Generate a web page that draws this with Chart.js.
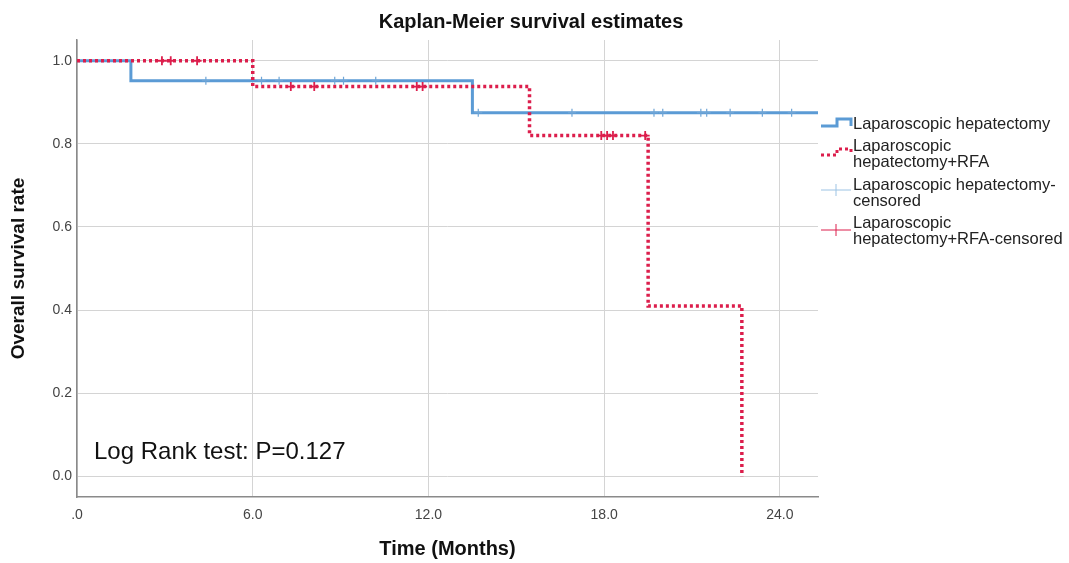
<!DOCTYPE html>
<html>
<head>
<meta charset="utf-8">
<script src="https://cdn.jsdelivr.net/npm/chart.js@4"></script>
<style>
  html, body { margin: 0; padding: 0; background: #fff; }
  #wrap { width: 1069px; height: 563px; }
</style>
</head>
<body>
<div id="wrap"><canvas id="km"></canvas></div>
<script>
// survival steps (months, rate)
const lapTimes     = [0, 1.84, 13.5, 25.3];
const lapSurv      = [1.0, 0.952, 0.875, 0.875];
const rfaTimes     = [0, 6.0, 15.45, 19.5, 22.7];
const rfaSurv      = [1.0, 0.938, 0.82, 0.41, 0.0];
// censored marks
const lapCensTimes = [4.4, 6.3, 6.9, 8.8, 9.1, 10.2, 13.7, 16.9, 19.7, 20.0, 21.3, 21.5, 22.3, 23.4, 24.4];
const lapCensSurv  = [0.952, 0.952, 0.952, 0.952, 0.952, 0.952, 0.875, 0.875, 0.875, 0.875, 0.875, 0.875, 0.875, 0.875, 0.875];
const rfaCensTimes = [2.9, 3.2, 4.1, 7.3, 8.1, 11.6, 11.8, 17.9, 18.1, 18.3, 19.4];
const rfaCensSurv  = [1.0, 1.0, 1.0, 0.938, 0.938, 0.938, 0.938, 0.82, 0.82, 0.82, 0.82];
const xTicks = [0, 6, 12, 18, 24];
const yTicks = [0, 0.2, 0.4, 0.6, 0.8, 1.0];

const BLUE = '#5b9bd5';
const RED  = '#dc1e4c';
const FONT = '"Liberation Sans", Arial, sans-serif';

const pts = (xs, ys) => xs.map((x, i) => ({ x: x, y: ys[i] }));

const extras = {
  id: 'extras',
  afterDraw(chart) {
    const c = chart.ctx;
    c.save();
    c.fillStyle = '#111';
    c.textBaseline = 'alphabetic';
    c.textAlign = 'center';
    c.font = 'bold 20px ' + FONT;
    c.fillText('Kaplan-Meier survival estimates', 531, 28);

    c.textAlign = 'left';
    c.font = '24px ' + FONT;
    c.fillText('Log Rank test: P=0.127', 94, 459);

    // legend
    c.textBaseline = 'middle';
    c.font = '16.5px ' + FONT;
    c.fillStyle = '#222';
    c.fillText('Laparoscopic hepatectomy', 853, 124);
    c.fillText('Laparoscopic', 853, 146);
    c.fillText('hepatectomy+RFA', 853, 162);
    c.fillText('Laparoscopic hepatectomy-', 853, 185);
    c.fillText('censored', 853, 201);
    c.fillText('Laparoscopic', 853, 223);
    c.fillText('hepatectomy+RFA-censored', 853, 239);

    c.lineWidth = 3;
    c.strokeStyle = BLUE;
    c.beginPath();
    c.moveTo(821, 126); c.lineTo(837, 126); c.lineTo(837, 119); c.lineTo(851, 119); c.lineTo(851, 126);
    c.stroke();

    c.strokeStyle = RED;
    c.setLineDash([3, 3]);
    c.beginPath();
    c.moveTo(821, 155); c.lineTo(837, 155); c.lineTo(837, 149); c.lineTo(851, 149); c.lineTo(851, 155);
    c.stroke();
    c.setLineDash([]);

    c.lineWidth = 1;
    c.strokeStyle = '#9cc3e4';
    c.beginPath();
    c.moveTo(821, 190); c.lineTo(851, 190);
    c.moveTo(836, 184); c.lineTo(836, 196);
    c.stroke();
    c.strokeStyle = RED;
    c.beginPath();
    c.moveTo(821, 230); c.lineTo(851, 230);
    c.moveTo(836, 224); c.lineTo(836, 236);
    c.stroke();
    c.restore();
  }
};

new Chart(document.getElementById('km'), {
  type: 'line',
  data: {
    datasets: [
      {
        label: 'Laparoscopic hepatectomy',
        data: pts(lapTimes, lapSurv),
        borderColor: BLUE,
        borderWidth: 3,
        stepped: true,
        pointRadius: 0,
        order: 3
      },
      {
        label: 'Laparoscopic hepatectomy+RFA',
        data: pts(rfaTimes, rfaSurv),
        borderColor: RED,
        borderWidth: 3.5,
        borderDash: [3, 3],
        stepped: true,
        pointRadius: 0,
        order: 2
      },
      {
        type: 'scatter',
        label: 'Laparoscopic hepatectomy-censored',
        data: pts(lapCensTimes, lapCensSurv),
        borderColor: '#6fa5d6',
        pointStyle: 'cross',
        pointRadius: 4,
        borderWidth: 1.2,
        order: 1
      },
      {
        type: 'scatter',
        label: 'Laparoscopic hepatectomy+RFA-censored',
        data: pts(rfaCensTimes, rfaCensSurv),
        borderColor: RED,
        pointStyle: 'cross',
        pointRadius: 4.5,
        borderWidth: 1.8,
        order: 0
      }
    ]
  },
  options: {
    responsive: true,
    maintainAspectRatio: false,
    animation: false,
    layout: { padding: { top: 40, right: 251, left: 0, bottom: 0 } },
    plugins: {
      legend: { display: false },
      tooltip: { enabled: false }
    },
    scales: {
      x: {
        type: 'linear',
        min: 0,
        max: 25.3,
        afterBuildTicks: s => { s.ticks = xTicks.map(v => ({ value: v })); },
        afterFit: s => { s.height = 66; },
        grid: { color: '#d4d4d4', drawTicks: false },
        border: { color: '#8a8a8a', width: 1.5 },
        ticks: {
          color: '#444',
          font: { family: FONT, size: 14 },
          padding: 10,
          maxRotation: 0,
          callback: v => v === 0 ? '.0' : v.toFixed(1)
        },
        title: {
          display: true,
          text: 'Time (Months)',
          color: '#111',
          font: { family: FONT, size: 20, weight: 'bold' },
          padding: { top: 0, bottom: 2 }
        }
      },
      y: {
        min: -0.05,
        max: 1.05,
        afterBuildTicks: s => { s.ticks = yTicks.map(v => ({ value: v })); },
        afterFit: s => { s.width = 77; },
        grid: { color: '#d4d4d4', drawTicks: false },
        border: { color: '#8a8a8a', width: 1.5 },
        ticks: {
          color: '#444',
          font: { family: FONT, size: 14 },
          padding: 5,
          callback: v => v.toFixed(1)
        },
        title: {
          display: true,
          text: 'Overall survival rate',
          color: '#111',
          font: { family: FONT, size: 19, weight: 'bold' },
          padding: { top: 7, bottom: 0 }
        }
      }
    }
  },
  plugins: [extras]
});
</script>
</body>
</html>
